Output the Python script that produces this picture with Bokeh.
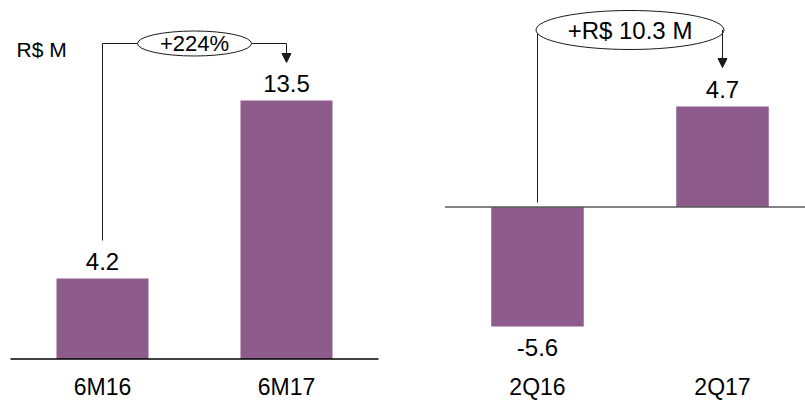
from bokeh.plotting import figure
from bokeh.layouts import row
from bokeh.models import Range1d, Arrow, NormalHead, ColumnDataSource
from bokeh.core.properties import value
from bokeh.embed import file_html
from bokeh.resources import INLINE

# Year-to-date result, R$ million
ytd_periods = ["6M16", "6M17"]
ytd_values = [4.2, 13.5]
ytd_change = "+224%"

# Quarterly result, R$ million
qtr_periods = ["2Q16", "2Q17"]
qtr_values = [-5.6, 4.7]
qtr_change = "+R$ 10.3 M"

unit_label = "R$ M"

BAR_COLOR = "#8D5B8C"
FONT = value("Liberation Sans")
LINE_COLOR = "#1a1a1a"


def panel(width, height, x0_px, px_per_x, zero_px, px_per_y):
    """Blank figure where bar index 0 sits at x0_px and the zero line at zero_px."""
    xr = Range1d(-x0_px / px_per_x, (width - x0_px) / px_per_x)
    yr = Range1d(-(height - zero_px) / px_per_y, zero_px / px_per_y)
    p = figure(width=width, height=height, x_range=xr, y_range=yr,
               output_backend="svg", toolbar_location=None,
               x_axis_location=None, y_axis_location=None,
               min_border=0, outline_line_color=None,
               background_fill_color="white", border_fill_color="white")
    p.grid.visible = False

    def ypix(px):
        return (zero_px - px) / px_per_y

    def xpix(px):
        return (px - x0_px) / px_per_x

    return p, xpix, ypix


def bars(p, periods, values, ypix, cat_px, baseline_color, baseline_end):
    idx = list(range(len(periods)))
    src = ColumnDataSource(dict(
        x=idx, top=values,
        label=[f"{v:.1f}" for v in values],
        off=[-17 if v >= 0 else 21 for v in values],
    ))
    p.vbar(x="x", top="top", bottom=0, width=0.5, source=src,
           fill_color=BAR_COLOR, line_color=None)
    p.segment(x0=[-0.5], y0=[0], x1=[baseline_end], y1=[0],
              line_color=baseline_color, line_width=1.5)
    p.text(x="x", y="top", text="label", y_offset="off", source=src,
           text_align="center", text_baseline="middle",
           text_font=FONT, text_font_size="24px", text_color="black")
    cat_y = ypix(cat_px)
    p.text(x=idx, y=[cat_y] * len(idx), text=periods,
           text_align="center", text_baseline="middle",
           text_font=FONT, text_font_size="23px", text_color="black")


def change_callout(p, text, y_center, y_from, y_to, ew, eh, size):
    # bracket from the first bar's label, over to the second bar, ending in an arrow
    p.line(x=[0, 0, 1], y=[y_from, y_center, y_center],
           line_color=LINE_COLOR, line_width=1)
    p.add_layout(Arrow(end=NormalHead(size=9, fill_color=LINE_COLOR, line_color=LINE_COLOR),
                       x_start=1, y_start=y_center, x_end=1, y_end=y_to,
                       line_color=LINE_COLOR, line_width=1))
    p.ellipse(x=[0.5], y=[y_center], width=ew, height=eh,
              width_units="screen", height_units="screen",
              fill_color="white", line_color=LINE_COLOR, line_width=1)
    p.text(x=[0.5], y=[y_center], text=[text],
           text_align="center", text_baseline="middle",
           text_font=FONT, text_font_size=size, text_color="black")


# Left panel: six-month comparison
left, lx, ly = panel(420, 401, 102, 184, 358.4, 19.14)
bars(left, ytd_periods, ytd_values, ly, 386, "black", 1.5)
change_callout(left, ytd_change, ly(43), ly(240), ly(62), 114, 25, "22px")
left.text(x=[lx(16)], y=[ly(49)], text=[unit_label],
          text_align="left", text_baseline="middle",
          text_font=FONT, text_font_size="21px", text_color="black")

# Right panel: quarterly comparison
right, rx, ry = panel(385, 401, 117, 185, 206.4, 21.36)
bars(right, qtr_periods, qtr_values, ry, 386, "#5a5a5a", right.x_range.end)
change_callout(right, qtr_change, ry(29.5), ry(202), ry(67), 188, 39, "24px")

layout = row(left, right, spacing=0)

with open("out.html", "w") as f:
    f.write(file_html(layout, INLINE))
